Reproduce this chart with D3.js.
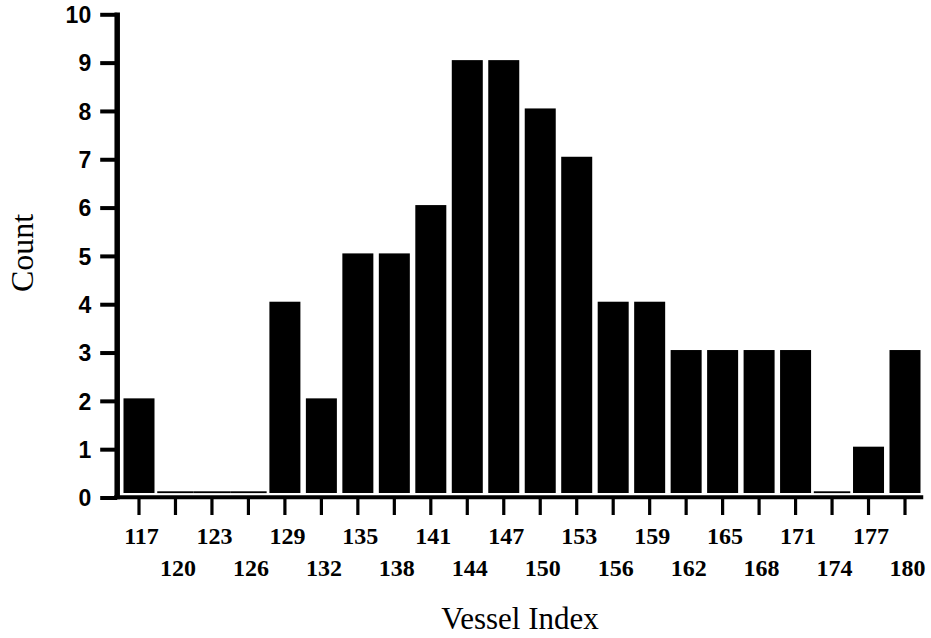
<!DOCTYPE html>
<html>
<head>
<meta charset="utf-8">
<script src="https://cdn.jsdelivr.net/npm/d3@7"></script>
<style>
  html, body { margin: 0; padding: 0; background: #fff; }
  svg { display: block; }
</style>
</head>
<body>
<svg id="chart" width="931" height="638"></svg>
<script>
const categories = [117,120,123,126,129,132,135,138,141,144,147,150,153,156,159,162,165,168,171,174,177,180];
const counts = [2,0,0,0,4,2,5,5,6,9,9,8,7,4,4,3,3,3,3,0,1,3];
const yTicks = [0,1,2,3,4,5,6,7,8,9,10];
const xTitle = "Vessel Index";
const yTitle = "Count";

const svg = d3.select("#chart");

const x = d3.scaleBand()
  .domain(categories)
  .range([120.76, 923.24])
  .paddingInner(0.15)
  .paddingOuter(0.075);
const y = d3.scaleLinear().domain([0, 10]).range([497.5, 14.3]);

const axisX = 117.2;   // y-axis line position
const axisY = 497.3;   // x-axis line position

// bars
const step = x.step();
const pad = step - x.bandwidth();
svg.append("g").selectAll("rect")
  .data(categories.map((c, i) => ({c, v: counts[i]})))
  .join("rect")
  .attr("x", d => d.v === 0 ? x(d.c) - pad / 2 : x(d.c))
  .attr("width", d => d.v === 0 ? step : x.bandwidth())
  .attr("y", d => d.v === 0 ? y(0) - 6.2 : y(d.v) - 2.5)
  .attr("height", d => d.v === 0 ? 1.8 : (y(0) - 4.5) - (y(d.v) - 2.5))
  .attr("fill", "#000");

// y axis
const gy = svg.append("g")
  .attr("transform", `translate(${axisX},0)`)
  .call(d3.axisLeft(y).tickValues(yTicks).tickSize(17).tickSizeOuter(0).tickPadding(9).tickFormat(d3.format("d")));
gy.select(".domain").remove();
gy.selectAll(".tick line").attr("stroke", "#000").attr("stroke-width", 4);
gy.selectAll(".tick text")
  .attr("fill", "#000")
  .attr("dy", "0.36em")
  .style("font-family", "'Liberation Sans', Arial, sans-serif")
  .style("font-weight", "bold")
  .style("font-size", "23px");
svg.append("line")
  .attr("x1", axisX).attr("x2", axisX)
  .attr("y1", y(10) - 1.8).attr("y2", axisY + 2)
  .attr("stroke", "#000").attr("stroke-width", 5.5);

// x axis
const gx = svg.append("g")
  .attr("transform", `translate(0,${axisY})`)
  .call(d3.axisBottom(x).tickSize(17.7).tickSizeOuter(0).tickFormat(d => String(d)));
gx.select(".domain").remove();
gx.selectAll(".tick line").attr("stroke", "#000").attr("stroke-width", 3.2);
gx.selectAll(".tick text")
  .attr("fill", "#000")
  .attr("dy", 0)
  .attr("dx", 2.5)
  .attr("y", (d, i) => i % 2 === 0 ? 544 - axisY : 576.5 - axisY)
  .style("font-family", "'Liberation Serif', 'Times New Roman', serif")
  .style("font-weight", "bold")
  .style("font-size", "24px");
svg.append("line")
  .attr("x1", axisX - 3).attr("x2", x.range()[1])
  .attr("y1", axisY).attr("y2", axisY)
  .attr("stroke", "#000").attr("stroke-width", 4);

// titles
svg.append("text")
  .attr("x", 520).attr("y", 629)
  .attr("text-anchor", "middle")
  .style("font-family", "'Liberation Serif', 'Times New Roman', serif")
  .style("font-size", "31px")
  .attr("fill", "#000")
  .text(xTitle);
svg.append("text")
  .attr("transform", "translate(33,253) rotate(-90)")
  .attr("text-anchor", "middle")
  .style("font-family", "'Liberation Serif', 'Times New Roman', serif")
  .style("font-size", "32px")
  .attr("fill", "#000")
  .text(yTitle);
</script>
</body>
</html>
